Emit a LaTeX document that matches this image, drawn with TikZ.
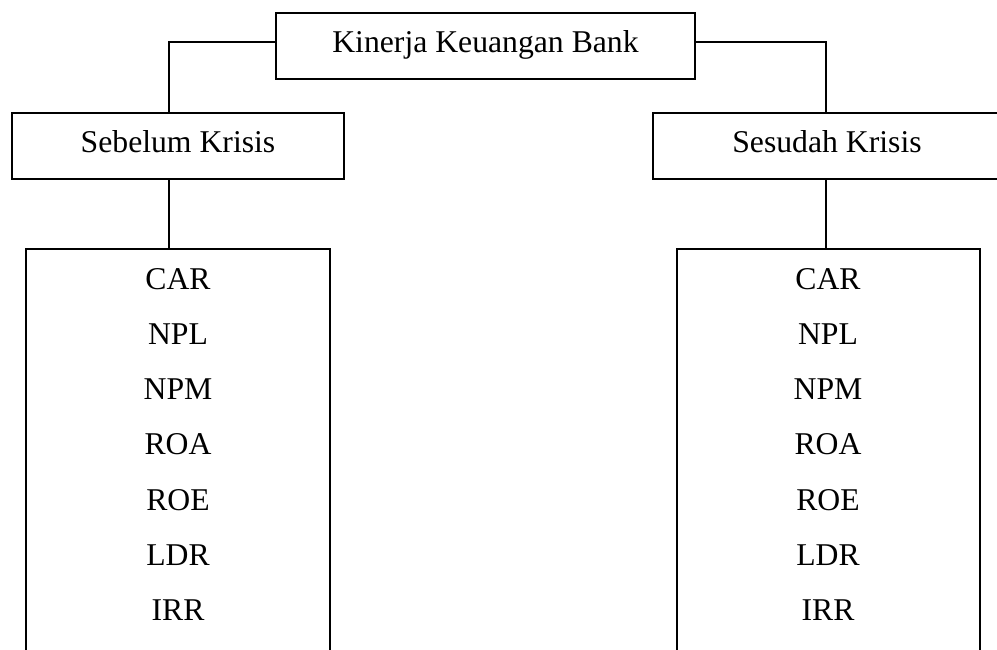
\documentclass[tikz,border=0pt]{standalone}
\usepackage{fontspec}
\setmainfont{Liberation Serif}
\begin{document}
\begin{tikzpicture}[x=1pt,y=-1pt,
  line width=1.7pt,
  box/.style={draw, line width=1.7pt, inner sep=0pt, font=\fontsize{31.7}{38}\selectfont,
    text height=21pt, text depth=8pt},
  item/.style={anchor=base, inner sep=0pt, font=\fontsize{31.7}{38}\selectfont}]
\useasboundingbox (0,0) rectangle (997,650);
\clip (0,0) rectangle (997,650);
\node[box, minimum width=419pt, minimum height=66pt] (top) at (485.5,46) {Kinerja Keuangan Bank};
\node[box, minimum width=332pt, minimum height=66pt] (sb) at (178,146) {Sebelum Krisis};
\node[box, minimum width=348pt, minimum height=66pt] (ss) at (827,146) {Sesudah Krisis};
\node[draw, line width=1.7pt, inner sep=0pt, minimum width=304pt, minimum height=440pt] (lb) at (178,469) {};
\node[draw, line width=1.7pt, inner sep=0pt, minimum width=303pt, minimum height=440pt] (rb) at (828.5,469) {};
\coordinate (jl) at (169,42);
\coordinate (jr) at (826,42);
\draw (top.west |- jl) -- (jl) -- (sb.north -| jl);
\draw (top.east |- jr) -- (jr) -- (ss.north -| jr);
\draw (sb.south -| jl) -- (lb.north -| jl);
\draw (ss.south -| jr) -- (rb.north -| jr);
\foreach \t [count=\i from 0] in {CAR,NPL,NPM,ROA,ROE,LDR,IRR} {
  \node[item] (L\i) at (178,289+55.33*\i) {\t};
  \node[item] (R\i) at (828,289+55.33*\i) {\t};
}
\end{tikzpicture}
\end{document}
